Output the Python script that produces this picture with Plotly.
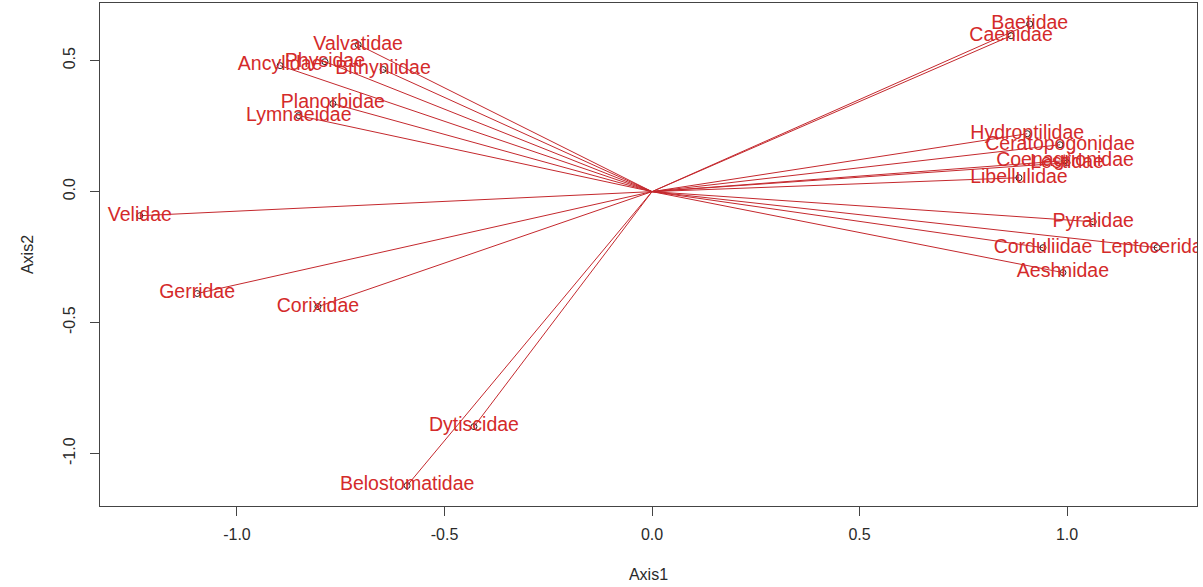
import plotly.graph_objects as go

# Family scores on the first two ordination axes
families = [
    "Baetidae", "Caenidae", "Valvatidae", "Physidae", "Ancylidae", "Bithyniidae",
    "Planorbidae", "Lymnaeidae", "Velidae", "Gerridae", "Corixidae", "Dytiscidae",
    "Belostomatidae", "Hydroptilidae", "Ceratopogonidae", "Coenagrionidae",
    "Lestidae", "Libellulidae", "Pyralidae", "Leptoceridae", "Corduliidae", "Aeshnidae",
]
axis1 = [
    0.91, 0.865, -0.708, -0.788, -0.896, -0.648,
    -0.769, -0.851, -1.234, -1.096, -0.805, -0.429,
    -0.59, 0.904, 0.983, 0.995,
    1.0, 0.884, 1.063, 1.217, 0.942, 0.99,
]
axis2 = [
    0.64, 0.595, 0.561, 0.496, 0.481, 0.466,
    0.336, 0.29, -0.092, -0.389, -0.439, -0.897,
    -1.122, 0.221, 0.179, 0.118,
    0.11, 0.053, -0.115, -0.214, -0.214, -0.309,
]

x_ticks = [-1.0, -0.5, 0.0, 0.5, 1.0]
y_ticks = [-1.0, -0.5, 0.0, 0.5]

LINE_RED = "#C4282D"
TEXT_RED = "#D42A2A"
FONT = "Liberation Sans, Arial, sans-serif"

# Segments from the origin to each family score
seg_x, seg_y = [], []
for xv, yv in zip(axis1, axis2):
    seg_x += [0, xv, None]
    seg_y += [0, yv, None]

fig = go.Figure()
fig.add_trace(go.Scatter(
    x=seg_x, y=seg_y, mode="lines",
    line=dict(color=LINE_RED, width=1), hoverinfo="skip", showlegend=False,
))
fig.add_trace(go.Scatter(
    x=axis1, y=axis2, mode="markers",
    marker=dict(symbol="circle-open", size=6, color="#222222", line=dict(width=1)),
    showlegend=False,
))
fig.add_trace(go.Scatter(
    x=axis1, y=axis2, mode="text", text=families,
    textposition="middle center",
    textfont=dict(family=FONT, size=19.5, color=TEXT_RED),
    showlegend=False, cliponaxis=True,
))

axis_common = dict(
    showgrid=False, zeroline=False, showline=True, mirror=True,
    linecolor="#444444", linewidth=1, ticks="outside", ticklen=9,
    tickcolor="#444444", tickfont=dict(family=FONT, size=16, color="#2a2a2a"),
)

fig.update_layout(
    width=1203, height=587,
    margin=dict(l=100, r=6, t=3, b=81, autoexpand=False),
    paper_bgcolor="white", plot_bgcolor="white",
    xaxis=dict(
        range=[-1.33, 1.313], tickvals=x_ticks,
        ticktext=[f"{v:.1f}" for v in x_ticks], ticklabelstandoff=5,
        title=dict(text="Axis1", font=dict(family=FONT, size=16, color="#2a2a2a"), standoff=26),
        **axis_common,
    ),
    yaxis=dict(
        range=[-1.2, 0.72], tickvals=y_ticks,
        ticktext=[f"{v:.1f}" for v in y_ticks], tickangle=-90, ticklabelstandoff=9,
        title=dict(text="Axis2", font=dict(family=FONT, size=16, color="#2a2a2a"), standoff=22),
        **axis_common,
    ),
)

fig.write_html("out.html")
